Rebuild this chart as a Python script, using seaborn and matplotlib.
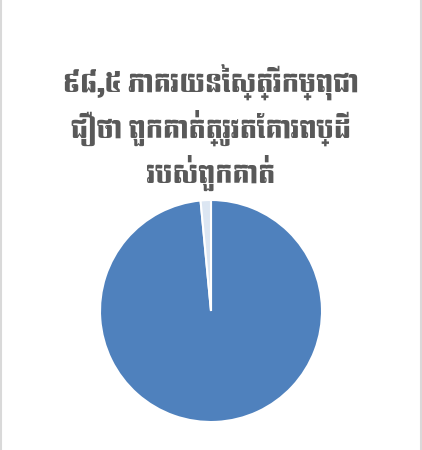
import seaborn as sns
import matplotlib.pyplot as plt
from matplotlib import font_manager
from matplotlib.ft2font import FT2Font
from matplotlib.lines import Line2D

# data
labels = ["ជឿ", "មិនជឿ"]
shares = [98.5, 1.5]
colors = ["#4f81bd", "#dce6f2"]
title = "៩៨,៥ ភាគរយនៃស្ត្រីកម្ពុជា\nជឿថា ពួកគាត់ត្រូវតែគោរពប្ដី\nរបស់ពួកគាត់"

sns.set_theme(style="white")

# families that have Khmer glyphs
khmer_fonts = []
for path in font_manager.findSystemFonts():
    try:
        if 0x1780 in FT2Font(path).get_charmap():
            khmer_fonts.append(font_manager.FontProperties(fname=path).get_name())
    except Exception:
        pass
plt.rcParams["font.family"] = sorted(set(khmer_fonts)) + ["DejaVu Sans"]

fig = plt.figure(figsize=(4.22, 4.5), dpi=100)
ax = fig.add_axes([100 / 422, 1 - 422 / 450, 222 / 422, 222 / 450])
ax.pie(shares, colors=colors, startangle=90, counterclock=False,
       wedgeprops=dict(edgecolor="white", linewidth=1.5))
ax.set_xlim(-1, 1)
ax.set_ylim(-1, 1)
ax.set_aspect("equal")

fig.text(0.5, 1 - 128 / 450, title, ha="center", va="center",
         fontsize=18, fontweight="light", color="#595959", linespacing=1.3)

# chart frame sides
fig.add_artist(Line2D([0.5 / 422, 0.5 / 422], [0, 1], color="#d9d9d9", lw=1.5))
fig.add_artist(Line2D([420.5 / 422, 420.5 / 422], [0, 1], color="#d9d9d9", lw=1.5))

fig.savefig("out.png", dpi=100, facecolor="white")
